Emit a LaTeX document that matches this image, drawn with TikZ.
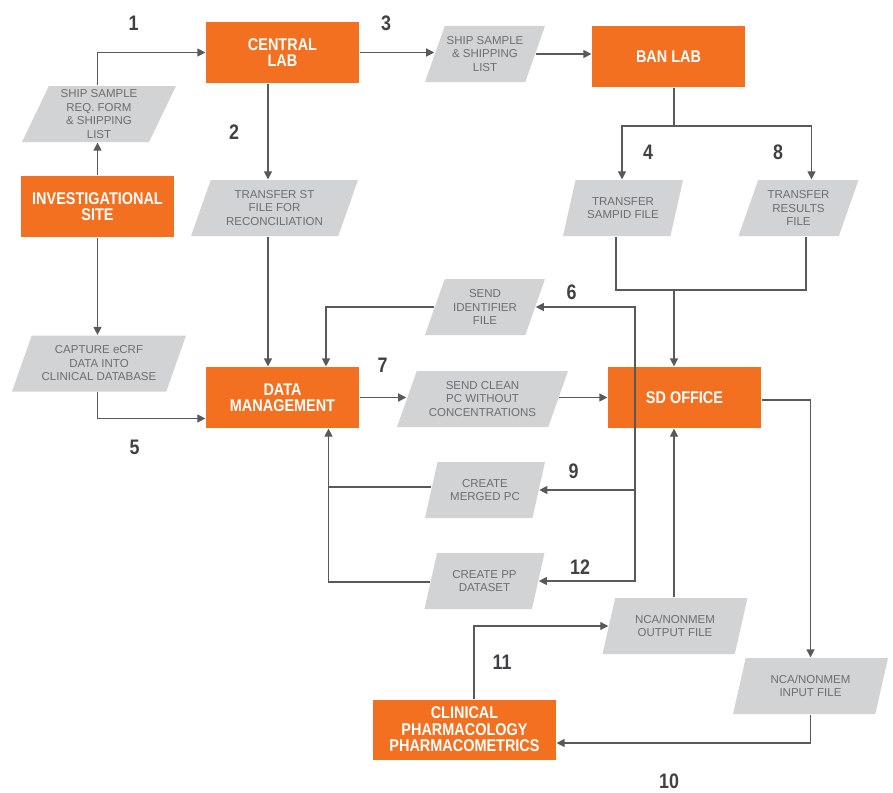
\documentclass[tikz,border=0pt]{standalone}
\usepackage{fontspec}
\setmainfont{Liberation Sans}
\newfontfamily\condfont[FakeStretch=0.85]{Liberation Sans}
\usetikzlibrary{positioning, calc, arrows.meta, shapes.geometric}
\definecolor{unitbox}{HTML}{F37021}
\definecolor{filebox}{HTML}{D1D3D4}
\definecolor{filetext}{HTML}{6D6E71}
\definecolor{wire}{HTML}{58595B}
\definecolor{stepno}{HTML}{414042}

\begin{document}
\begin{tikzpicture}[
    x=1pt, y=-1pt,
    >={Triangle[length=8pt, width=8pt]},
    line width=1.2pt,
    color=wire,
    unitbox/.style={
        fill=unitbox,
        draw=none,
        text=white,
        align=center,
        minimum width=153pt,
        minimum height=61pt,
        inner sep=0pt,
        font=\condfont\bfseries\fontsize{17}{16.5}\selectfont
    },
    filebox/.style={
        trapezium,
        trapezium left angle=62,
        trapezium right angle=118,
        trapezium stretches body=true,
        fill=filebox,
        draw=none,
        text=filetext,
        align=center,
        minimum height=56pt,
        minimum width=#1,
        inner xsep=0pt,
        inner ysep=1pt,
        font=\fontsize{11.5}{13.5}\selectfont
    },
    filebox/.default=120pt,
    stepno/.style={
        text=stepno,
        inner sep=0pt,
        font=\condfont\bfseries\fontsize{21}{21}\selectfont
    }
]
\useasboundingbox (0,0) rectangle (893,792);

% Units
\node[unitbox] (cent) at (282.5,52.5) {CENTRAL\\LAB};
\node[unitbox] (ban) at (668.5,56.5) {BAN LAB};
\node[unitbox] (site) at (97.5,206.5) {INVESTIGATIONAL\\SITE};
\node[unitbox] (dm) at (282.5,397.5) {DATA\\MANAGEMENT};
\node[unitbox] (sdo) at (684.5,397.5) {SD OFFICE};
\node[unitbox, minimum width=183pt, minimum height=60pt] (cpp) at (464.5,729.5) {CLINICAL\\PHARMACOLOGY\\PHARMACOMETRICS};

% Files
\node[filebox=154pt] (shipreq) at (99,114) {SHIP SAMPLE\\REQ. FORM\\\& SHIPPING\\LIST};
\node[filebox=167pt] (transst) at (274.5,208) {TRANSFER ST\\FILE FOR\\RECONCILIATION};
\node[filebox] (shiplist) at (485,54) {SHIP SAMPLE\\\& SHIPPING\\LIST};
\node[filebox] (sampid) at (623,208) {TRANSFER\\SAMPID FILE};
\node[filebox] (results) at (798.5,208) {TRANSFER\\RESULTS\\FILE};
\node[filebox=174pt] (ecrf) at (99,363.5) {CAPTURE eCRF\\DATA INTO\\CLINICAL DATABASE};
\node[filebox] (ident) at (485,307) {SEND\\IDENTIFIER\\FILE};
\node[filebox=171pt] (clean) at (482.5,399) {SEND CLEAN\\PC WITHOUT\\CONCENTRATIONS};
\node[filebox] (merged) at (485,490) {CREATE\\MERGED PC};
\node[filebox] (ppds) at (484.5,581) {CREATE PP\\DATASET};
\node[filebox=145pt] (ncaout) at (675,626) {NCA/NONMEM\\OUTPUT FILE};
\node[filebox=155pt] (ncain) at (810.5,686) {NCA/NONMEM\\INPUT FILE};

% Step numbers
\node[stepno] (n1) at (133.5,23.5) {1};
\node[stepno] (n2) at (234,132) {2};
\node[stepno] (n3) at (386,23.5) {3};
\node[stepno] (n4) at (648,152) {4};
\node[stepno] (n5) at (134.5,447.5) {5};
\node[stepno] (n6) at (571.5,292) {6};
\node[stepno] (n7) at (382.5,365.5) {7};
\node[stepno] (n8) at (778,152) {8};
\node[stepno] (n9) at (573.5,471) {9};
\node[stepno] (n10) at (669,781) {10};
\node[stepno] (n11) at (502,662) {11};
\node[stepno] (n12) at (580,567) {12};

% Junctions
\coordinate (banout) at ([xshift=5.5pt]ban.south);
\coordinate (fork) at (674,126);
\coordinate (join) at (674,290);
\coordinate (sdoleft) at ([xshift=-49.5pt]sdo.north);
\coordinate (sdodown) at ([xshift=-49.5pt]sdo.south);
\coordinate (dmtop) at ([xshift=43.5pt]dm.north);
\coordinate (dmbottom) at ([xshift=46pt]dm.south);
\coordinate (stline) at ([xshift=-14.5pt]cent.south);

% Edges
\draw[->] (site.north) -- (site.north |- shipreq.south);
\draw[->] (shipreq.north -| site.north) |- (cent.west);
\draw[->] (stline) -- (stline |- transst.north);
\draw[->] (stline |- transst.south) -- (stline |- dm.north);
\draw[->] (cent.east) -- (cent.east -| shiplist.west);
\draw[->] (shiplist.east) -- (shiplist.east -| ban.west);
\draw (banout) -- (fork);
\draw[->] (fork) -| ([xshift=-1pt]sampid.north);
\draw[->] (fork) -| ([xshift=13pt]results.north);
\draw ([xshift=-7pt]sampid.south) |- (join);
\draw ([xshift=7.5pt]results.south) |- (join);
\draw[->] (join) -- (join |- sdo.north);
\draw[->] (site.south) -- (site.south |- ecrf.north);
\draw[->] (ecrf.south -| site.south) |- ([yshift=-21pt]dm.west);
\draw[->] (dm.east) -- (dm.east -| clean.west);
\draw[->] (clean.east |- sdo.west) -- (sdo.west);
\draw[->] (sdoleft) |- (ident.east);
\draw[->] (ident.west) -| (dmtop);
\draw (sdoleft) -- (sdodown);
\draw[->] (sdodown) |- (merged.east);
\draw[->] (sdodown) |- (ppds.east);
\draw ([yshift=3pt]merged.west) -| (dmbottom);
\draw[->] ([yshift=-1pt]ppds.west) -| (dmbottom);
\draw[->] ([yshift=-2.5pt]sdo.east) -| (ncain.north);
\draw[->] (ncain.south) |- ([yshift=-13.5pt]cpp.east);
\draw[->] ([xshift=9.5pt]cpp.north) |- (ncaout.west);
\draw[->] (ncaout.north -| join) -- (join |- sdo.south);

\end{tikzpicture}
\end{document}
